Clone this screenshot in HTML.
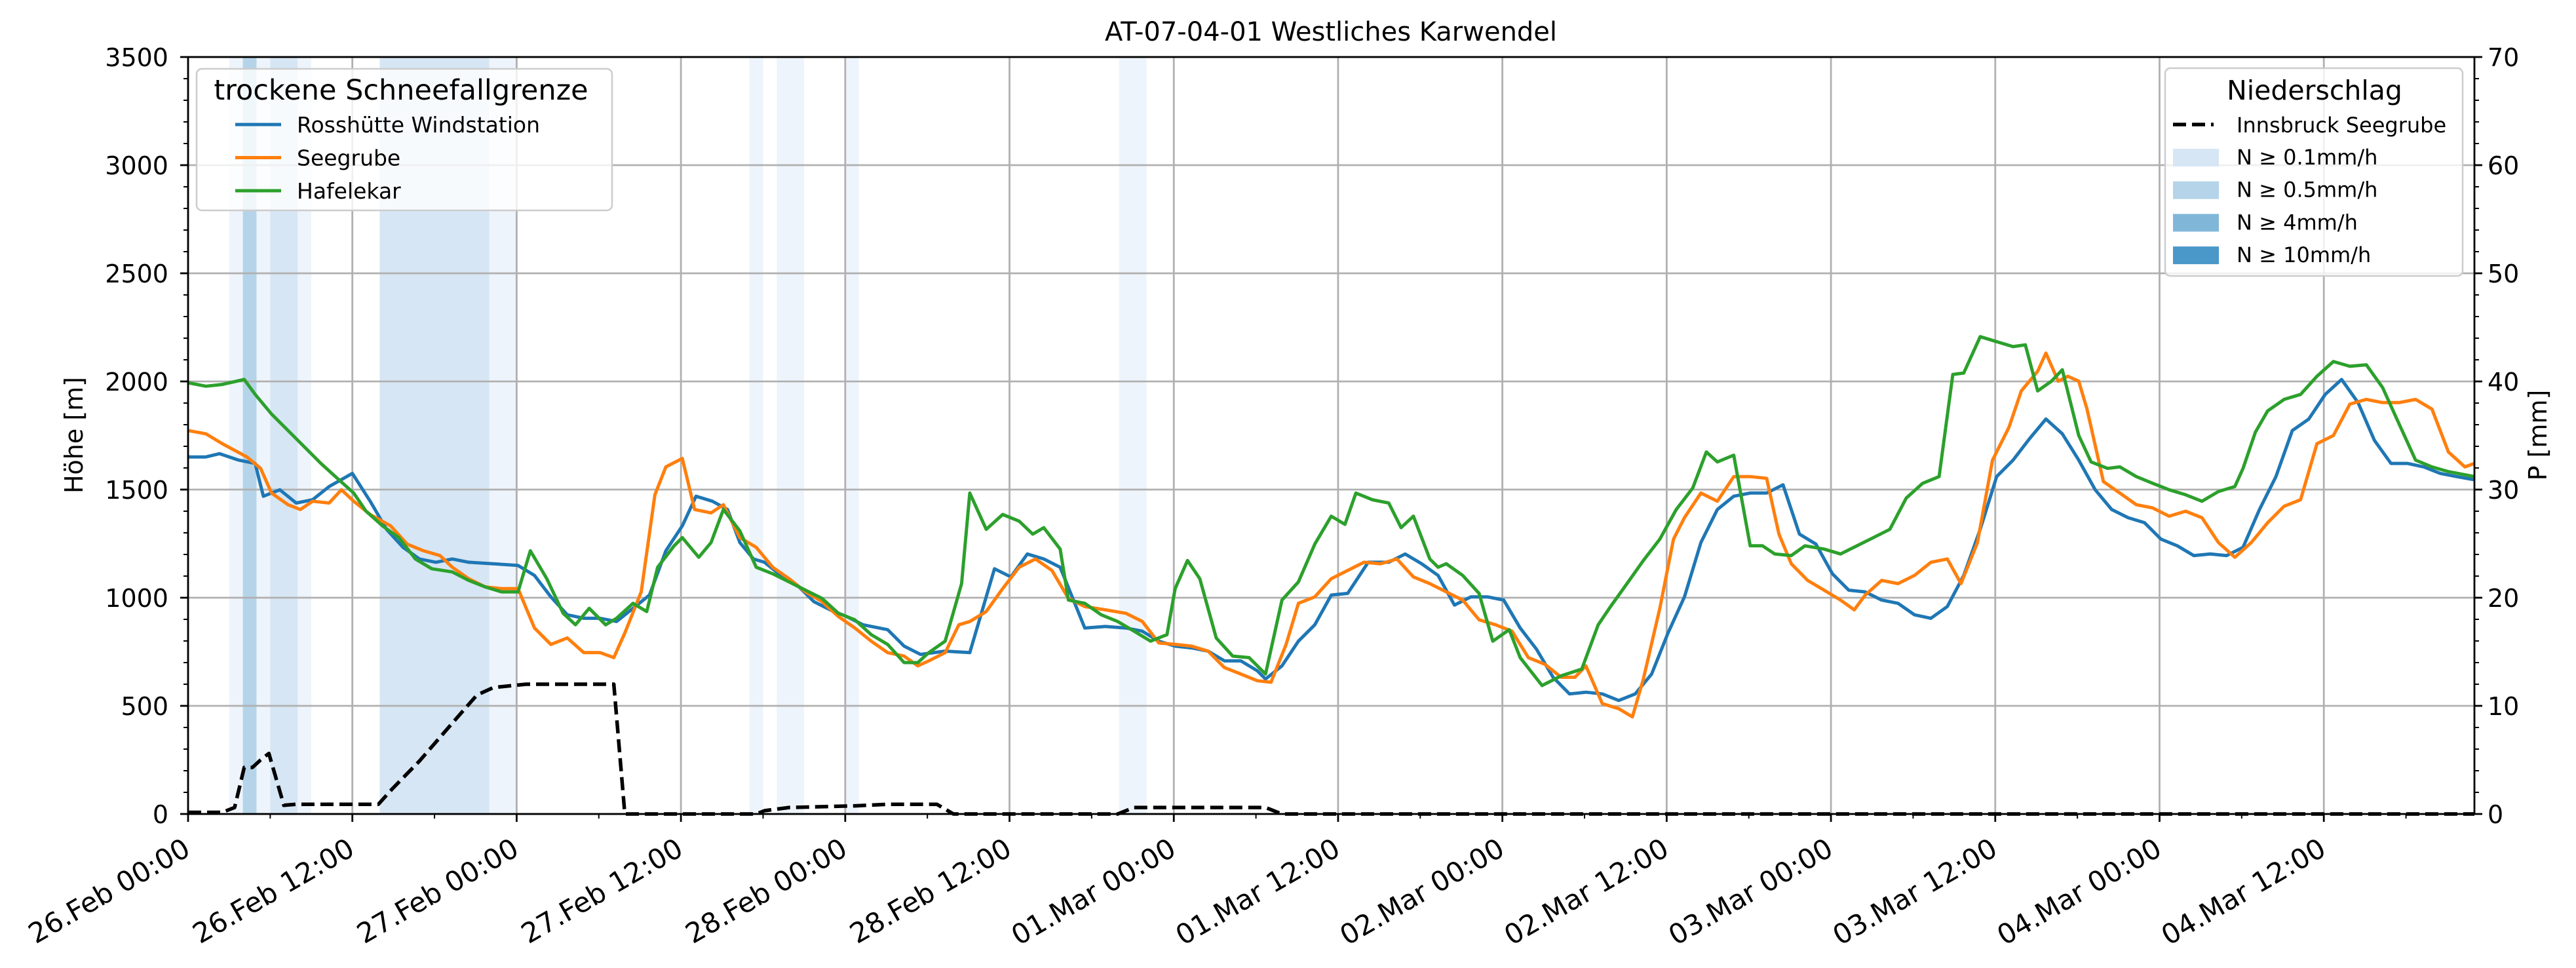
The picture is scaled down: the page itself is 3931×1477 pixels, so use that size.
<!DOCTYPE html>
<html><head><meta charset="utf-8"><style>
html,body{margin:0;padding:0;background:#fff;}
svg{display:block;font-family:"DejaVu Sans","Liberation Sans",sans-serif;}
</style></head><body>
<svg id="chart" width="3931" height="1477" viewBox="0 0 3931 1477" xmlns="http://www.w3.org/2000/svg">
<rect width="3931" height="1477" fill="#fff"/>
<text x="2031" y="62" font-size="40" text-anchor="middle">AT-07-04-01 Westliches Karwendel</text>
<g id="bands"></g><g id="grid"></g><g id="series"></g><g id="axes"></g><g id="legends"></g>
</svg>
<script>
const rossH=[0,1.3,2.3,3.7,4.9,5.5,6.7,7.9,9.1,10.3,12,13.3,14.5,15.7,16.9,18.1,19.3,20.5,22.3,24.1,25.3,26.5,27.7,28.9,30.1,31.3,32.5,33.7,34.9,36.1,37.1,38.3,39.4,40.3,41.3,42.1,43.3,44.5,45.7,46.9,48.1,49.3,51.1,52.3,53.5,55.3,57.1,58.9,60.1,61.3,62.5,63.7,65.5,67,68.5,69.7,70.9,72.1,73.3,74.5,75.7,76.9,78.1,78.7,79.9,81.1,82.3,83.5,84.7,86.2,87.7,88.9,90.1,91.3,92.5,93.7,94.9,96.1,97.3,98.5,99.7,100.9,102.1,103.3,104.5,105.7,106.9,108.1,109.3,110.5,111.7,112.9,114.1,115.3,116.5,117.7,118.9,120.1,121.3,122.5,123.7,124.9,126.1,127.3,128.5,129.7,130.9,132.1,133.3,134.5,135.7,136.9,138.1,139.3,140.5,141.7,142.9,144.1,145.3,146.5,147.7,148.9,150.1,151.3,152.5,153.7,154.9,156.1,157.3,158.5,159.7,160.9,162.1,163.3,164.5,165.7,167];
const rossV=[1651,1651,1666,1636,1621,1469,1499,1438,1453,1514,1575,1446,1316,1233,1179,1164,1179,1164,1157,1149,1103,1004,921,905,905,890,951,1012,1217,1332,1469,1446,1408,1255,1179,1164,1103,1058,982,944,913,875,852,776,738,753,746,1134,1096,1202,1179,1141,860,867,860,845,799,776,768,753,708,708,662,624,685,799,875,1012,1020,1164,1164,1202,1157,1103,966,1004,1004,989,860,761,632,555,563,555,525,555,647,837,1004,1255,1408,1469,1484,1484,1522,1294,1248,1111,1035,1027,989,974,921,905,959,1103,1316,1560,1636,1735,1826,1758,1636,1499,1408,1370,1347,1271,1240,1195,1202,1195,1233,1408,1560,1773,1826,1940,2009,1902,1727,1621,1621,1605,1575,1560,1545];
const seeH=[0,1.3,2.5,4.3,5.3,6.1,7.3,8.2,9.1,10.3,11.2,12.1,13.3,14.8,16,17.2,18.4,19.3,20.5,21.7,22.9,24.1,25.3,26.5,27.7,28.9,30.1,31.1,31.9,33.1,34.1,34.9,36.1,37,38.2,39.1,40.3,41.5,42.7,43.9,45.1,46.3,47.5,48.7,49.9,51.1,52.3,53.3,54.1,55.3,56.3,57.1,58.3,59.5,60.7,61.9,63.1,64.3,65.5,67,68.5,69.7,70.9,72.1,73.3,74.5,75.7,76.9,78.1,79.1,80.2,81.1,82.3,83.5,84.7,85.9,87.1,88.3,89.5,90.7,91.9,93.1,94.3,95.5,96.7,97.9,99.1,100.3,101.3,102.1,103.3,104.5,105.5,106.3,107.5,108.5,109.3,110.5,111.7,112.9,114.1,115.3,116.2,117.1,118.3,119.5,120.7,121.7,122.5,123.7,124.9,126.1,127.3,128.5,129.5,130.7,131.8,133,133.9,135.1,135.7,136.6,137.3,138.1,138.7,139.9,141.1,142.3,143.5,144.7,145.9,147.1,148.3,149.5,150.7,151.9,153.1,154.3,155.5,156.7,157.9,159.1,160.3,161.5,162.7,163.9,165.1,166.3,167];
const seeV=[1773,1758,1712,1651,1598,1484,1430,1408,1446,1438,1499,1446,1385,1332,1248,1217,1195,1141,1088,1050,1042,1042,860,784,814,746,746,723,837,1027,1476,1605,1644,1408,1392,1430,1278,1233,1141,1088,1027,982,913,860,799,746,730,685,708,746,875,890,936,1042,1141,1179,1126,997,959,944,928,890,791,784,776,753,677,647,616,609,784,974,1004,1088,1126,1164,1157,1179,1096,1065,1027,989,898,875,845,723,692,632,632,685,510,487,449,624,951,1271,1370,1484,1446,1560,1560,1552,1294,1157,1080,1035,989,944,1012,1080,1065,1103,1164,1179,1065,1255,1636,1788,1956,2047,2131,2001,2024,2001,1872,1537,1484,1430,1415,1377,1400,1370,1255,1187,1255,1347,1423,1453,1712,1750,1895,1917,1902,1902,1917,1872,1674,1605,1621];
const hafH=[0,1.3,2.5,4.1,4.9,6.1,7.3,8.5,9.7,10.9,12.1,13,14.2,15.4,16.6,17.8,19.3,20.5,21.7,22.9,24.1,25,26.2,27.4,28.3,29.3,30.5,31.3,32.5,33.5,34.3,35.5,36.1,37.3,38.2,39.1,40.3,41.5,42.7,43.9,45.1,46.3,47.5,48.7,49.9,51.1,52.3,53.3,54.1,55.3,56.5,57.1,58.3,59.5,60.7,61.7,62.5,63.7,64.3,65.5,66.7,67.9,69.1,70.3,71.5,72.1,73,73.9,75.1,76.3,77.5,78.7,79.9,81.1,82.3,83.5,84.5,85.3,86.5,87.7,88.6,89.5,90.7,91.3,91.9,93.1,94.3,95.3,96.5,97.3,98.9,100.3,101.8,103,103.9,105.1,106.3,107.5,108.7,109.9,110.9,111.7,112.9,114.1,115,115.9,117.1,118.1,119.5,120.7,121.9,123.1,124.3,125.5,126.7,127.9,128.9,129.7,130.9,132.1,133.3,134.2,135.1,136.1,136.9,138.1,139,140.2,141.1,142.3,143.5,144.7,145.9,147.1,148.3,149.5,150.1,151,151.9,153.1,154.3,155.5,156.7,157.9,159.1,160.3,161.5,162.7,163.9,165.1,167];
const hafV=[1994,1978,1986,2009,1940,1849,1773,1697,1621,1552,1484,1400,1332,1278,1179,1134,1119,1080,1050,1027,1027,1217,1088,928,875,951,875,905,974,936,1141,1240,1278,1187,1255,1408,1309,1141,1111,1073,1035,997,928,898,829,784,700,700,746,799,1065,1484,1316,1385,1354,1294,1324,1225,989,974,921,890,845,799,829,1042,1172,1088,814,730,723,647,989,1073,1248,1377,1339,1484,1453,1438,1324,1377,1179,1141,1157,1103,1020,799,852,723,594,639,670,875,959,1065,1172,1271,1408,1507,1674,1628,1659,1240,1240,1202,1195,1240,1225,1202,1240,1278,1316,1461,1529,1560,2032,2039,2207,2184,2161,2169,1956,2001,2054,1750,1628,1598,1605,1560,1529,1499,1476,1446,1491,1514,1598,1765,1864,1917,1940,2024,2092,2070,2077,1971,1803,1636,1605,1583,1560];
const precH=[0,2.5,3.4,4.1,4.7,5.3,5.9,7.0,7.9,13.9,14.9,16.9,19.3,21.1,22.3,24.7,31.1,31.9,41.5,42.1,43.9,48.7,51.1,54.7,55.9,67.9,69.1,78.7,79.9,167];
const precV=[0.15,0.15,0.6,4.3,4.3,5.0,5.6,0.8,0.9,0.9,2.3,4.9,8.4,11.0,11.7,12.0,12.0,0,0,0.3,0.6,0.75,0.9,0.9,0,0,0.6,0.6,0,0];
const bandStart=[3,5,8,22,41,43,48,68,6,14,4];
const bandEnd=[4,6,9,24,42,45,49,70,8,22,5];
const bandLevel=[0,0,0,0,0,0,0,0,1,1,2];
const yTicks=[0,500,1000,1500,2000,2500,3000,3500];
const pTicks=[0,10,20,30,40,50,60,70];
const xTickLabels=["26.Feb 00:00","26.Feb 12:00","27.Feb 00:00","27.Feb 12:00","28.Feb 00:00","28.Feb 12:00","01.Mar 00:00","01.Mar 12:00","02.Mar 00:00","02.Mar 12:00","03.Mar 00:00","03.Mar 12:00","04.Mar 00:00","04.Mar 12:00"];

const NS="http://www.w3.org/2000/svg";
const X0=287,X1=3776,Y0=87,Y1=1242,HMAX=167;
const xs=h=>X0+(h/HMAX)*(X1-X0);
const ys=v=>Y1-(v/3500)*(Y1-Y0);
const ps=v=>Y1-(v/70)*(Y1-Y0);
function mk(tag,attrs,parent){const e=document.createElementNS(NS,tag);for(const k in attrs)e.setAttribute(k,attrs[k]);parent.appendChild(e);return e;}
const bandColors=["#eef4fb","#d6e6f4","#b5d4e9","#80b7d9","#4a97c9"];
const gB=document.getElementById('bands');
for(let i=0;i<bandStart.length;i++){
  const r=mk('rect',{x:xs(bandStart[i]),y:Y0,width:xs(bandEnd[i])-xs(bandStart[i]),height:Y1-Y0,fill:bandColors[bandLevel[i]]},gB);
  
  
}
const gG=document.getElementById('grid');
yTicks.forEach(v=>{const l=mk('line',{x1:X0,x2:X1,y1:ys(v),y2:ys(v),stroke:'#b0b0b0','stroke-width':2.8},gG);});
xTickLabels.forEach((t,i)=>{const l=mk('line',{x1:xs(i*12),x2:xs(i*12),y1:Y0,y2:Y1,stroke:'#b0b0b0','stroke-width':2.8},gG);});
const gS=document.getElementById('series');
function line(H,V,sc,color,name,dash){
  const d=H.map((h,i)=>(i?'L':'M')+xs(h).toFixed(1)+','+sc(V[i]).toFixed(1)).join('');
  const p=mk('path',{d:d,fill:'none',stroke:color,'stroke-width':dash?5.5:5,'stroke-linejoin':'round'},gS);
  if(dash)p.setAttribute('stroke-dasharray','20,9');
  
  
}
line(rossH,rossV,ys,'#1f77b4','rosshuette-line');
line(seeH,seeV,ys,'#ff7f0e','seegrube-line');
line(hafH,hafV,ys,'#2ca02c','hafelekar-line');
line(precH,precV,ps,'#000','precip-line',true);
const gA=document.getElementById('axes');
mk('rect',{x:X0,y:Y0,width:X1-X0,height:Y1-Y0,fill:'none',stroke:'#000','stroke-width':2.8},gA);
for(let v=0;v<=3500;v+=100){const maj=v%500===0;const L=maj?12:7;
  mk('line',{x1:X0-L,x2:X0,y1:ys(v),y2:ys(v),stroke:'#000','stroke-width':maj?2.8:2},gA);
  mk('line',{x1:X1,x2:X1+L,y1:ys(v),y2:ys(v),stroke:'#000','stroke-width':maj?2.8:2},gA);}
yTicks.forEach(v=>{const t=mk('text',{x:X0-30,y:ys(v)+14,'font-size':38,'text-anchor':'end'},gA);t.textContent=v;});
pTicks.forEach(v=>{const t=mk('text',{x:X1+20,y:ps(v)+14,'font-size':38},gA);t.textContent=v;});
for(let h=0;h<=HMAX;h+=6){const maj=h%12===0;mk('line',{x1:xs(h),x2:xs(h),y1:Y1,y2:Y1+(maj?12:7),stroke:'#000','stroke-width':maj?2.8:2},gA);}
xTickLabels.forEach((s,i)=>{const x=xs(i*12)+6,y=1303;const t=mk('text',{x:x,y:y,'font-size':42,'text-anchor':'end',transform:`rotate(-30 ${x} ${y})`},gA);t.textContent=s;});
let t=mk('text',{x:126,y:664,'font-size':38,'text-anchor':'middle',transform:'rotate(-90 126 664)'},gA);t.textContent='Höhe [m]';
t=mk('text',{x:3886,y:664,'font-size':38,'text-anchor':'middle',transform:'rotate(-90 3886 664)'},gA);t.textContent='P [mm]';
const gL=document.getElementById('legends');
let b=mk('rect',{x:300,y:105,width:634,height:216,rx:8,fill:'#fff','fill-opacity':0.8,stroke:'#cccccc','stroke-width':2.5},gL);
t=mk('text',{x:612,y:152,'font-size':43,'text-anchor':'middle'},gL);t.textContent='trockene Schneefallgrenze';
[['Rosshütte Windstation','#1f77b4'],['Seegrube','#ff7f0e'],['Hafelekar','#2ca02c']].forEach((e,i)=>{const y=190+i*50.5;
  mk('line',{x1:359,x2:429,y1:y,y2:y,stroke:e[1],'stroke-width':5},gL);
  const tt=mk('text',{x:453,y:y+12,'font-size':33},gL);tt.textContent=e[0];});
b=mk('rect',{x:3304,y:104,width:454,height:317,rx:8,fill:'#fff','fill-opacity':0.8,stroke:'#cccccc','stroke-width':2.5},gL);
t=mk('text',{x:3532,y:152,'font-size':41,'text-anchor':'middle'},gL);t.textContent='Niederschlag';
mk('line',{x1:3316,x2:3378,y1:190,y2:190,stroke:'#000','stroke-width':5.5,'stroke-dasharray':'20,9'},gL);
t=mk('text',{x:3413,y:202,'font-size':32},gL);t.textContent='Innsbruck Seegrube';
['N ≥ 0.1mm/h','N ≥ 0.5mm/h','N ≥ 4mm/h','N ≥ 10mm/h'].forEach((s,i)=>{const y=240+i*49.7;
  mk('rect',{x:3316,y:y-13,width:70,height:27,fill:bandColors[i+1]},gL);
  const tt=mk('text',{x:3413,y:y+11,'font-size':32},gL);tt.textContent=s;});
</script>
</body></html>
